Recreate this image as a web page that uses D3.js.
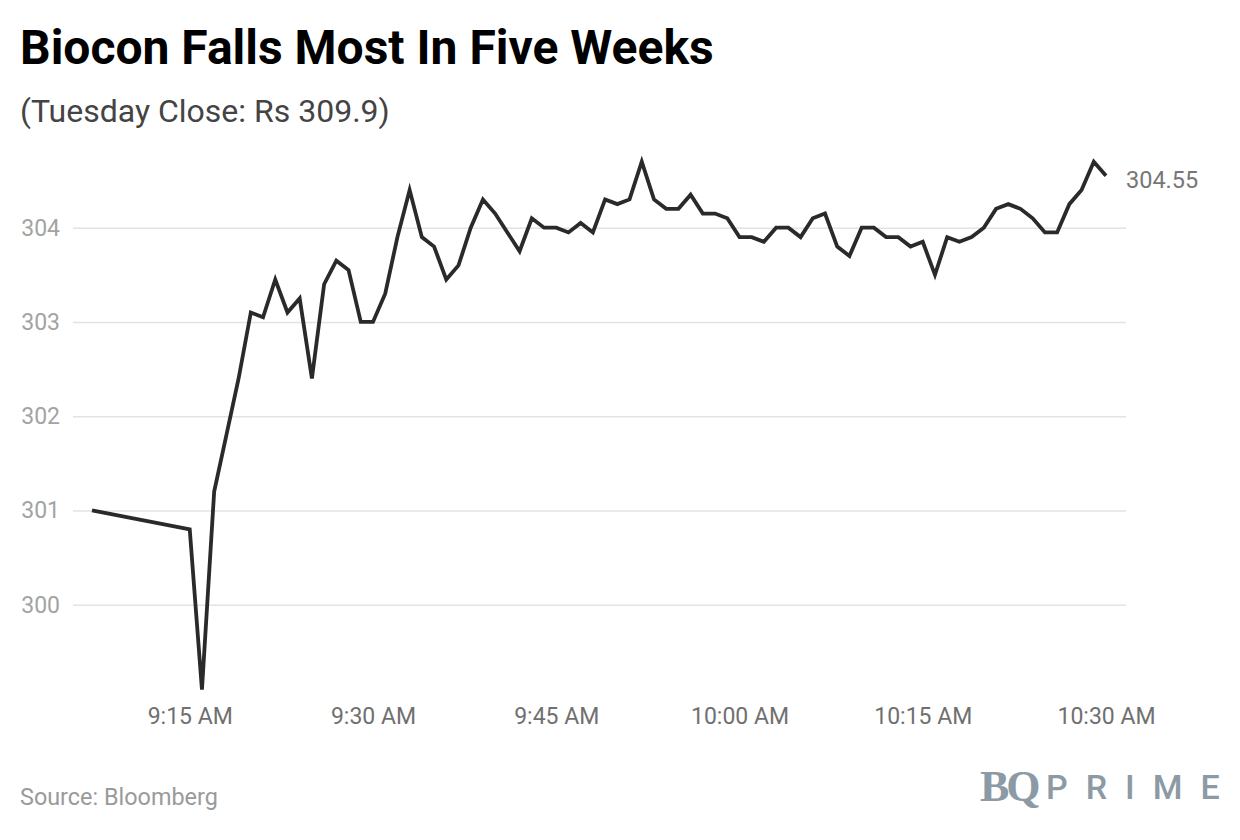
<!DOCTYPE html>
<html>
<head>
<meta charset="utf-8">
<script src="https://cdn.jsdelivr.net/npm/d3@7"></script>
<style>
  body { margin: 0; background: #fff; }
  svg { display: block; font-family: Roboto, "Noto Sans", sans-serif; }
</style>
</head>
<body>
<svg id="chart" width="1240" height="840"></svg>
<script>
// prices, one per minute from 9:15 (plus a pre-open print at 9:07)
const times = ["9:07",
  "9:15","9:16","9:17","9:18","9:19","9:20","9:21","9:22","9:23","9:24",
  "9:25","9:26","9:27","9:28","9:29","9:30","9:31","9:32","9:33","9:34",
  "9:35","9:36","9:37","9:38","9:39","9:40","9:41","9:42","9:43","9:44",
  "9:45","9:46","9:47","9:48","9:49","9:50","9:51","9:52","9:53","9:54",
  "9:55","9:56","9:57","9:58","9:59","10:00","10:01","10:02","10:03","10:04",
  "10:05","10:06","10:07","10:08","10:09","10:10","10:11","10:12","10:13","10:14",
  "10:15","10:16","10:17","10:18","10:19","10:20","10:21","10:22","10:23","10:24",
  "10:25","10:26","10:27","10:28","10:29","10:30"];
const prices = [301.0,
  300.8,299.1,301.2,301.8,302.4,303.1,303.05,303.45,303.1,303.25,
  302.4,303.4,303.65,303.55,303.0,303.0,303.3,303.9,304.4,303.9,
  303.8,303.45,303.6,304.0,304.3,304.15,303.95,303.75,304.1,304.0,
  304.0,303.95,304.05,303.95,304.3,304.25,304.3,304.7,304.3,304.2,
  304.2,304.35,304.15,304.15,304.1,303.9,303.9,303.85,304.0,304.0,
  303.9,304.1,304.15,303.8,303.7,304.0,304.0,303.9,303.9,303.8,
  303.85,303.5,303.9,303.85,303.9,304.0,304.2,304.25,304.2,304.1,
  303.95,303.95,304.25,304.4,304.7,304.55];
const yTicks = [300, 301, 302, 303, 304];
const xTicks = ["9:15", "9:30", "9:45", "10:00", "10:15", "10:30"];

const parseTime = d3.timeParse("%H:%M");

let data = [];
for (let i = 0; i < times.length; i++) {
  data.push({ t: parseTime(times[i]), v: prices[i] });
}

const svg = d3.select("#chart");

// title + subtitle
svg.append("text")
  .attr("x", 20).attr("y", 64)
  .attr("font-size", 48).attr("font-weight", 700)
  .attr("fill", "#000")
  .text("Biocon Falls Most In Five Weeks");

svg.append("text")
  .attr("x", 20).attr("y", 122)
  .attr("font-size", 32)
  .attr("fill", "#444")
  .text("(Tuesday Close: Rs 309.9)");

// scales
const xScale = d3.scaleTime()
  .domain(d3.extent(data, d => d.t))
  .range([92, 1106]);

const yScale = d3.scaleLinear()
  .domain([300, 304])
  .range([604.7, 227.7]);

// y gridlines + labels
const yAxis = svg.append("g")
  .attr("transform", "translate(73,0)")
  .call(d3.axisLeft(yScale).tickValues(yTicks).tickSize(-1053).tickPadding(13).tickFormat(d3.format("d")));
yAxis.select(".domain").remove();
yAxis.selectAll("line").attr("stroke", "#e3e3e3").attr("stroke-width", 1.5);
yAxis.selectAll("text")
  .attr("font-size", 23).attr("fill", "#a3a3a3")
  .attr("font-family", "Roboto, sans-serif");

// x axis labels
const xAxis = svg.append("g")
  .attr("transform", "translate(0,700)")
  .call(d3.axisBottom(xScale)
    .tickValues(xTicks.map(parseTime))
    .tickSize(0).tickPadding(8)
    .tickFormat(d3.timeFormat("%-I:%M %p")));
xAxis.select(".domain").remove();
xAxis.selectAll("text")
  .attr("font-size", 23).attr("fill", "#707070")
  .attr("font-family", "Roboto, sans-serif");

// price line
const line = d3.line()
  .x(d => xScale(d.t))
  .y(d => yScale(d.v));

svg.append("path")
  .datum(data)
  .attr("fill", "none")
  .attr("stroke", "#2a2a2a")
  .attr("stroke-width", 3.8)
  .attr("stroke-linejoin", "miter")
  .attr("d", line);

// last value label
let last = data[data.length - 1];
svg.append("text")
  .attr("x", xScale(last.t) + 20)
  .attr("y", yScale(last.v) + 12)
  .attr("font-size", 23.5).attr("fill", "#777")
  .text(last.v.toFixed(2));

// footer
svg.append("text")
  .attr("x", 20).attr("y", 805)
  .attr("font-size", 23.4).attr("fill", "#9a9a9a")
  .text("Source: Bloomberg");

const logo = svg.append("g").attr("fill", "#8b9aa4");
logo.append("text")
  .attr("x", 980).attr("y", 801)
  .attr("font-family", "'Liberation Serif', 'DejaVu Serif', serif")
  .attr("font-size", 44).attr("font-weight", 700)
  .attr("letter-spacing", -3)
  .text("BQ");
logo.append("text")
  .attr("x", 1046).attr("y", 799)
  .attr("font-family", "Roboto, sans-serif")
  .attr("font-size", 34).attr("font-weight", 500)
  .attr("letter-spacing", 18)
  .text("PRIME");
</script>
</body>
</html>
